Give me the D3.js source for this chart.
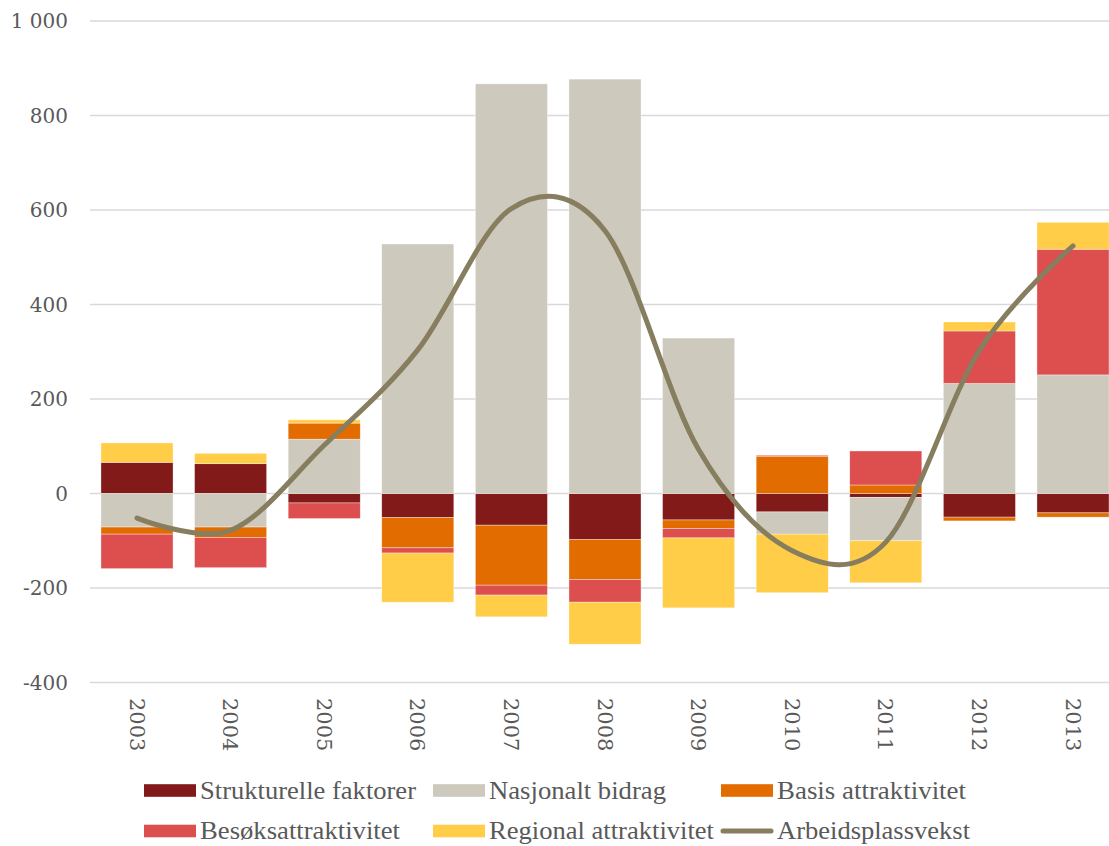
<!DOCTYPE html>
<meta charset="utf-8">
<style>
body { margin: 0; background: #fff; }
.grid line { stroke: #d9d9d9; stroke-width: 1.5px; }
.tick-label { font-family: "DejaVu Serif", serif; font-size: 20px; fill: #595959; }
.year-label { font-family: "DejaVu Serif", serif; font-size: 21px; fill: #595959; }
.legend text { font-family: "Liberation Serif", serif; font-size: 26px; fill: #595959; }
</style>
<svg width="1109" height="846"></svg>
<script src="https://d3js.org/d3.v7.min.js"></script>
<script>
var years = ["2003", "2004", "2005", "2006", "2007", "2008", "2009", "2010", "2011", "2012", "2013"];

var strukturelle = [66, 63, -20, -51, -67, -97, -56, -39, -8, -50, -41];
var nasjonalt    = [-71, -71, 115, 528, 867, 877, 329, -47, -92, 233, 251];
var basis        = [-15, -22, 34, -64, -127, -85, -18, 79, 18, -8, -9];
var besok        = [-73, -64, -33, -11, -21, -48, -20, 2, 72, 111, 266];
var regional     = [41, 22, 7, -104, -46, -89, -148, -124, -89, 19, 57];
var vekst        = [-52, -78, 102, 304, 603, 556, 93, -121, -103, 303, 524];

var yTicks = [-400, -200, 0, 200, 400, 600, 800, 1000];

var seriesNames = ["Strukturelle faktorer", "Nasjonalt bidrag", "Basis attraktivitet",
                   "Besøksattraktivitet", "Regional attraktivitet"];
var seriesKeys = ["s", "n", "b", "be", "r"];
var colors = ["#821a1a", "#cdc9bc", "#e36c00", "#dd4f4f", "#ffcd47"];
var lineColor = "#877d5f";

var svg = d3.select("svg"),
    width = +svg.attr("width"),
    height = +svg.attr("height");

// table for the stack layout
var rows = years.map(function(y, i) {
  return { year: y, s: strukturelle[i], n: nasjonalt[i], b: basis[i], be: besok[i], r: regional[i] };
});

var stacked = d3.stack()
    .keys(seriesKeys)
    .offset(d3.stackOffsetDiverging)(rows);

var x = d3.scaleBand()
    .domain(years)
    .range([90.2, 1119.8])
    .paddingInner(0.23)
    .paddingOuter(0.115);

var y = d3.scaleLinear()
    .domain([-400, 1000])
    .range([682.5, 21]);

// gridlines
svg.append("g").attr("class", "grid")
  .selectAll("line")
  .data(yTicks)
  .enter().append("line")
    .attr("x1", 90)
    .attr("x2", width)
    .attr("y1", function(d) { return y(d); })
    .attr("y2", function(d) { return y(d); });

// y labels
function fmt(d) {
  var s = d3.format(",")(d).replace(/,/g, " ");
  return s.replace("−", "-");
}
svg.append("g")
  .selectAll("text")
  .data(yTicks)
  .enter().append("text")
    .attr("class", "tick-label")
    .attr("x", 68)
    .attr("y", function(d) { return y(d); })
    .attr("dy", "0.35em")
    .attr("text-anchor", "end")
    .text(fmt);

// bars
svg.append("g")
  .selectAll("g")
  .data(stacked)
  .enter().append("g")
    .attr("fill", function(d, i) { return colors[i]; })
  .selectAll("rect")
  .data(function(d) { return d; })
  .enter().append("rect")
    .attr("x", function(d) { return x(d.data.year); })
    .attr("width", x.bandwidth())
    .attr("y", function(d) { return y(Math.max(d[0], d[1])); })
    .attr("height", function(d) { return Math.abs(y(d[0]) - y(d[1])); })
    .attr("stroke", "#fff")
    .attr("stroke-opacity", 0.6)
    .attr("stroke-width", 0.6);

// line
var line = d3.line()
    .x(function(d, i) { return x(years[i]) + x.bandwidth() / 2; })
    .y(function(d) { return y(d); })
    .curve(d3.curveCatmullRom.alpha(0));

svg.append("path")
    .datum(vekst)
    .attr("fill", "none")
    .attr("stroke", lineColor)
    .attr("stroke-width", 5)
    .attr("stroke-linecap", "round")
    .attr("d", line);

// year labels, rotated
svg.append("g")
  .selectAll("text")
  .data(years)
  .enter().append("text")
    .attr("class", "year-label")
    .attr("transform", function(d) {
      return "translate(" + (x(d) + x.bandwidth() / 2) + ",698) rotate(90)";
    })
    .attr("dy", "0.35em")
    .attr("text-anchor", "start")
    .text(function(d) { return d; });

// legend
var legendItems = [
  { name: seriesNames[0], color: colors[0], sx: 144, tx: 200, row: 0, w: 216 },
  { name: seriesNames[1], color: colors[1], sx: 433, tx: 489, row: 0, w: 177 },
  { name: seriesNames[2], color: colors[2], sx: 721, tx: 777, row: 0, w: 189 },
  { name: seriesNames[3], color: colors[3], sx: 144, tx: 200, row: 1, w: 200 },
  { name: seriesNames[4], color: colors[4], sx: 433, tx: 489, row: 1, w: 225 },
  { name: "Arbeidsplassvekst", color: lineColor, sx: 721, tx: 777, row: 1, w: 193, line: true }
];
var rowY = [790.5, 831];

var legend = svg.append("g").attr("class", "legend");
legendItems.forEach(function(it) {
  var cy = rowY[it.row];
  if (it.line) {
    legend.append("line")
        .attr("x1", it.sx + 2).attr("x2", it.sx + 50)
        .attr("y1", cy).attr("y2", cy)
        .attr("stroke", it.color)
        .attr("stroke-width", 5)
        .attr("stroke-linecap", "round");
  } else {
    legend.append("rect")
        .attr("x", it.sx).attr("y", cy - 6.3)
        .attr("width", 52).attr("height", 12.6)
        .attr("fill", it.color);
  }
  legend.append("text")
      .attr("x", it.tx)
      .attr("y", cy + 8)
      .attr("textLength", it.w)
      .attr("lengthAdjust", "spacingAndGlyphs")
      .text(it.name);
});
</script>
